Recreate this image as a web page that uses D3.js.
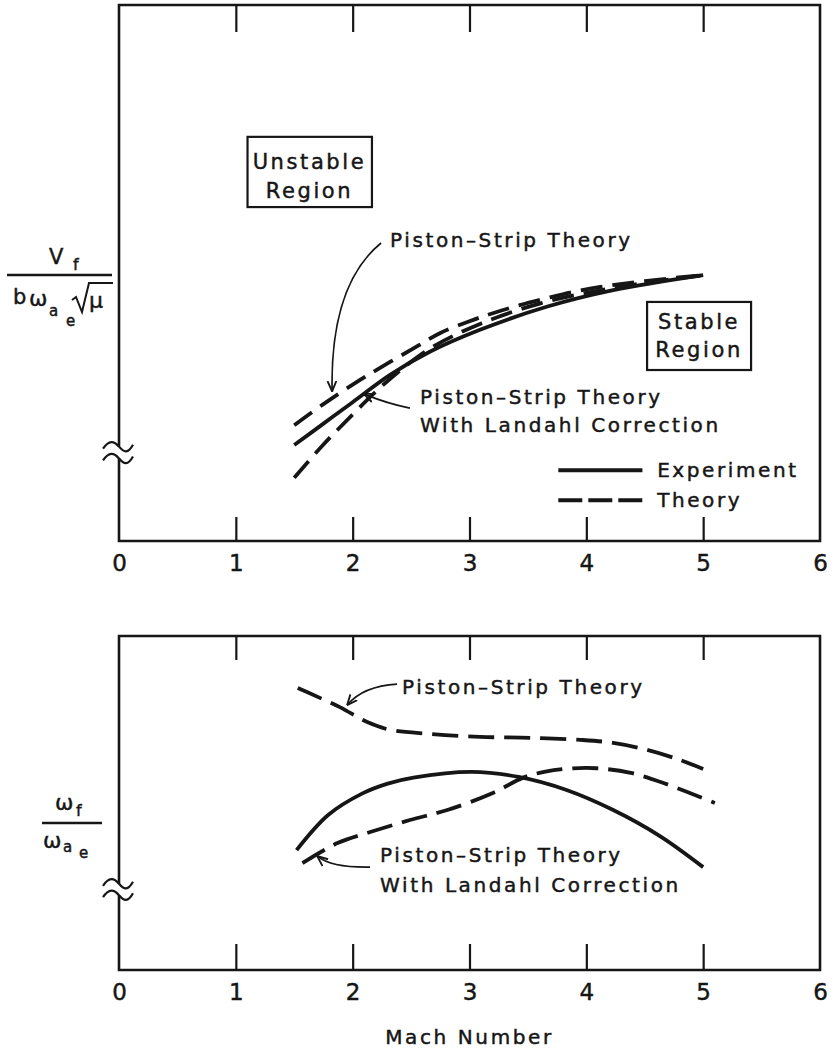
<!DOCTYPE html>
<html>
<head>
<meta charset="utf-8">
<script src="https://cdn.jsdelivr.net/npm/d3@7"></script>
<style>
  body { margin: 0; background: #fff; }
  svg text { font-family: "DejaVu Sans", "Liberation Sans", sans-serif; fill: #161616; }
  svg text.ink { stroke: #161616; stroke-width: 0.45; }
</style>
</head>
<body>
<svg id="chart" width="837" height="1048"></svg>
<script>
// Mach number axis
const machTicks = [0, 1, 2, 3, 4, 5, 6];

// Upper panel: flutter speed parameter Vf / (b ωαe √μ)
const speedExpMach = [1.5, 1.75, 2.0, 2.32, 2.66, 3.09, 3.66, 4.23, 5.0];
const speedExp = [17.9, 21.9, 25.9, 31.0, 35.3, 39.4, 43.7, 46.8, 49.6];
const speedPistonMach = [1.5, 1.74, 2.06, 2.32, 2.55, 2.75, 3.0, 3.2, 3.43, 3.66, 3.89, 4.12, 4.5, 5.0];
const speedPiston = [21.6, 25.4, 30.0, 33.4, 36.3, 38.8, 41.0, 42.5, 44.0, 45.3, 46.5, 47.4, 48.5, 49.6];
const speedLandahlMach = [1.5, 1.75, 2.0, 2.2, 2.45, 2.7, 3.1, 3.6, 4.2, 5.0];
const speedLandahl = [11.8, 18.0, 23.6, 27.9, 32.6, 36.4, 40.6, 44.3, 47.1, 49.6];

// Lower panel: flutter frequency ratio ωf / ωαe
const freqExpMach = [1.52, 1.79, 2.08, 2.3, 2.52, 3.02, 3.42, 3.83, 4.23, 4.63, 5.0];
const freqExp = [35.9, 46.4, 52.8, 55.8, 57.6, 59.3, 57.8, 53.9, 47.9, 40.1, 30.8];
const freqPistonMach = [1.53, 1.89, 2.12, 2.32, 2.66, 3.09, 3.52, 3.95, 4.23, 4.52, 4.8, 5.0];
const freqPiston = [84.4, 78.7, 74.3, 71.9, 70.7, 69.8, 69.5, 68.9, 68.0, 65.9, 62.9, 60.2];
const freqLandahlMach = [1.57, 1.87, 2.15, 2.49, 2.81, 3.2, 3.46, 3.65, 3.85, 4.09, 4.38, 4.66, 5.1];
const freqLandahl = [32.0, 38.0, 41.3, 44.9, 47.9, 53.0, 57.6, 59.4, 60.3, 60.4, 59.0, 56.0, 50.0];

const ink = "#161616";
const svg = d3.select("#chart");

const x = d3.scaleLinear().domain([0, 6]).range([119, 820]);
const yTop = d3.scaleLinear().domain([0, 100]).range([541, 5]);
const yBot = d3.scaleLinear().domain([0, 100]).range([970, 636]);

// open chevron arrowhead for the callouts
svg.append("defs").append("marker")
  .attr("id", "chev")
  .attr("viewBox", "0 0 10 10")
  .attr("refX", 9).attr("refY", 5)
  .attr("markerWidth", 11).attr("markerHeight", 11)
  .attr("markerUnits", "userSpaceOnUse")
  .attr("orient", "auto")
  .append("path")
  .attr("d", "M0,1 L9.5,5 L0,9")
  .attr("fill", "none").attr("stroke", ink).attr("stroke-width", 1.7);

function zip(ms, vs) { return ms.map((m, i) => [m, vs[i]]); }

function drawPanel(y, breakLo, breakHi, topLen, botLen) {
  const g = svg.append("g");
  const x0 = x(0), x1 = x(6), yT = y(100), yB = y(0);
  // frame, left side interrupted by the scale break
  const frame = d3.path();
  frame.moveTo(x0, y(breakLo)); frame.lineTo(x0, yB); frame.lineTo(x1, yB);
  frame.lineTo(x1, yT); frame.lineTo(x0, yT); frame.lineTo(x0, y(breakHi));
  g.append("path").attr("d", frame.toString())
    .attr("fill", "none").attr("stroke", ink).attr("stroke-width", 2.6)
    .attr("stroke-linejoin", "miter");
  // break mark: two tildes across the ordinate
  [breakHi, breakLo].forEach(v => {
    const cy = y(v);
    g.append("path")
      .attr("d", `M${x0 - 16},${cy + 2} C${x0 - 10},${cy - 7} ${x0 - 5},${cy - 6} ${x0},${cy} S${x0 + 9},${cy + 7} ${x0 + 14},${cy - 2}`)
      .attr("fill", "none").attr("stroke", ink).attr("stroke-width", 2.2);
  });
  // inward ticks along top and bottom
  g.append("g").attr("transform", `translate(0,${yT})`)
    .call(d3.axisTop(x).tickValues([1, 2, 3, 4, 5]).tickSize(-topLen).tickFormat(""))
    .call(a => a.select(".domain").remove())
    .call(a => a.selectAll("line").attr("stroke", ink).attr("stroke-width", 2.2));
  const bottom = g.append("g").attr("transform", `translate(0,${yB})`)
    .call(d3.axisBottom(x).tickValues(machTicks).tickSize(-botLen).tickPadding(14).tickFormat(d3.format("d")))
    .call(a => a.select(".domain").remove())
    .call(a => a.selectAll("line").attr("stroke", ink).attr("stroke-width", 2.2)
      .attr("opacity", d => (d === 0 || d === 6) ? 0 : 1));
  bottom.selectAll("text")
    .attr("class", "ink")
    .attr("fill", ink).attr("font-size", 23)
    .attr("font-family", "DejaVu Sans, sans-serif");
  return g;
}

function curve(g, y, data, dash) {
  const line = d3.line().x(d => x(d[0])).y(d => y(d[1])).curve(d3.curveCatmullRom.alpha(0.5));
  g.append("path").datum(data).attr("d", line)
    .attr("fill", "none").attr("stroke", ink).attr("stroke-width", 3.8)
    .attr("stroke-dasharray", dash || null);
}

function label(g, px, py, str, size, anchor) {
  return g.append("text").attr("class", "ink").attr("x", px).attr("y", py)
    .attr("font-size", size || 20).attr("letter-spacing", 2.6)
    .attr("dominant-baseline", "central")
    .attr("text-anchor", anchor || "start").text(str);
}

function arrow(g, y, from, ctrl, tip) {
  g.append("path")
    .attr("d", `M${x(from[0])},${y(from[1])} Q${x(ctrl[0])},${y(ctrl[1])} ${x(tip[0])},${y(tip[1])}`)
    .attr("fill", "none").attr("stroke", ink).attr("stroke-width", 1.7)
    .attr("marker-end", "url(#chev)");
}

function box(g, y, m0, m1, v0, v1) {
  g.append("rect")
    .attr("x", x(m0)).attr("y", y(v0))
    .attr("width", x(m1) - x(m0)).attr("height", y(v1) - y(v0))
    .attr("fill", "none").attr("stroke", ink).attr("stroke-width", 2.2);
}

// ---------- upper panel ----------
const upper = drawPanel(yTop, 15.4, 17.6, 27, 24);
curve(upper, yTop, zip(speedExpMach, speedExp));
curve(upper, yTop, zip(speedPistonMach, speedPiston), "22,10");
curve(upper, yTop, zip(speedLandahlMach, speedLandahl), "22,10");

box(upper, yTop, 1.1, 2.165, 75.4, 62.3);
label(upper, x(1.63), yTop(70.7), "Unstable", 21, "middle");
label(upper, x(1.63), yTop(65.3), "Region", 21, "middle");

box(upper, yTop, 4.52, 5.41, 44.6, 31.9);
label(upper, x(4.965), yTop(40.9), "Stable", 21, "middle");
label(upper, x(4.965), yTop(35.6), "Region", 21, "middle");

label(upper, x(2.32), yTop(56.2), "Piston–Strip Theory", 20);
arrow(upper, yTop, [2.243, 55.6], [1.807, 47.8], [1.824, 28.0]);

label(upper, x(2.577), yTop(26.9), "Piston–Strip Theory", 20);
label(upper, x(2.577), yTop(21.6), "With Landahl Correction", 20);
arrow(upper, yTop, [2.49, 24.8], [2.3, 25.6], [2.1, 27.4]);

// legend
upper.append("line").attr("x1", x(3.76)).attr("x2", x(4.48))
  .attr("y1", yTop(13.2)).attr("y2", yTop(13.2))
  .attr("stroke", ink).attr("stroke-width", 3.8);
upper.append("line").attr("x1", x(3.76)).attr("x2", x(4.48))
  .attr("y1", yTop(7.6)).attr("y2", yTop(7.6))
  .attr("stroke", ink).attr("stroke-width", 3.8).attr("stroke-dasharray", "24,6");
label(upper, x(4.606), yTop(13.2), "Experiment", 20);
label(upper, x(4.606), yTop(7.6), "Theory", 20);

// ordinate label of the upper panel
const ylab = svg.append("g");
ylab.append("line").attr("x1", 7).attr("x2", 112).attr("y1", 275).attr("y2", 275)
  .attr("stroke", ink).attr("stroke-width", 2.4);
ylab.append("text").attr("class", "ink").attr("x", 49).attr("y", 264).attr("font-size", 21).text("V");
ylab.append("text").attr("class", "ink").attr("x", 73).attr("y", 270).attr("font-size", 16).text("f");
ylab.append("text").attr("class", "ink").attr("x", 13).attr("y", 304).attr("font-size", 21).text("b");
ylab.append("text").attr("class", "ink").attr("x", 29).attr("y", 306).attr("font-size", 22).text("ω");
ylab.append("text").attr("class", "ink").attr("x", 49).attr("y", 316).attr("font-size", 15).text("a");
ylab.append("text").attr("class", "ink").attr("x", 66).attr("y", 326).attr("font-size", 15).text("e");
ylab.append("path").attr("d", "M72,300 L76,297 L82,312 L89,283 L113,283")
  .attr("fill", "none").attr("stroke", ink).attr("stroke-width", 2);
ylab.append("text").attr("class", "ink").attr("x", 89).attr("y", 308).attr("font-size", 22).text("μ");

// ---------- lower panel ----------
const lower = drawPanel(yBot, 22.4, 25.8, 24, 26);
curve(lower, yBot, zip(freqExpMach, freqExp));
curve(lower, yBot, zip(freqPistonMach, freqPiston), "26,10");
curve(lower, yBot, zip(freqLandahlMach, freqLandahl), "26,10");

label(lower, x(2.423), yBot(84.7), "Piston–Strip Theory", 20);
arrow(lower, yBot, [2.38, 85.6], [2.09, 85.0], [1.955, 79.4]);

label(lower, x(2.235), yBot(34.4), "Piston–Strip Theory", 20);
label(lower, x(2.235), yBot(25.4), "With Landahl Correction", 20);
arrow(lower, yBot, [2.149, 30.8], [1.82, 30.6], [1.70, 34.0]);

// ordinate label of the lower panel
const ylab2 = svg.append("g");
ylab2.append("line").attr("x1", 42).attr("x2", 102).attr("y1", 823).attr("y2", 823)
  .attr("stroke", ink).attr("stroke-width", 2.4);
ylab2.append("text").attr("class", "ink").attr("x", 55).attr("y", 810).attr("font-size", 22).text("ω");
ylab2.append("text").attr("class", "ink").attr("x", 76).attr("y", 816).attr("font-size", 16).text("f");
ylab2.append("text").attr("class", "ink").attr("x", 43).attr("y", 848).attr("font-size", 22).text("ω");
ylab2.append("text").attr("class", "ink").attr("x", 63).attr("y", 852).attr("font-size", 15).text("a");
ylab2.append("text").attr("class", "ink").attr("x", 79).attr("y", 858).attr("font-size", 15).text("e");

// abscissa title
svg.append("text").attr("class", "ink").attr("x", x(3)).attr("y", 1037)
  .attr("text-anchor", "middle").attr("dominant-baseline", "central")
  .attr("font-size", 20).attr("letter-spacing", 2.6).text("Mach Number");
</script>
</body>
</html>
